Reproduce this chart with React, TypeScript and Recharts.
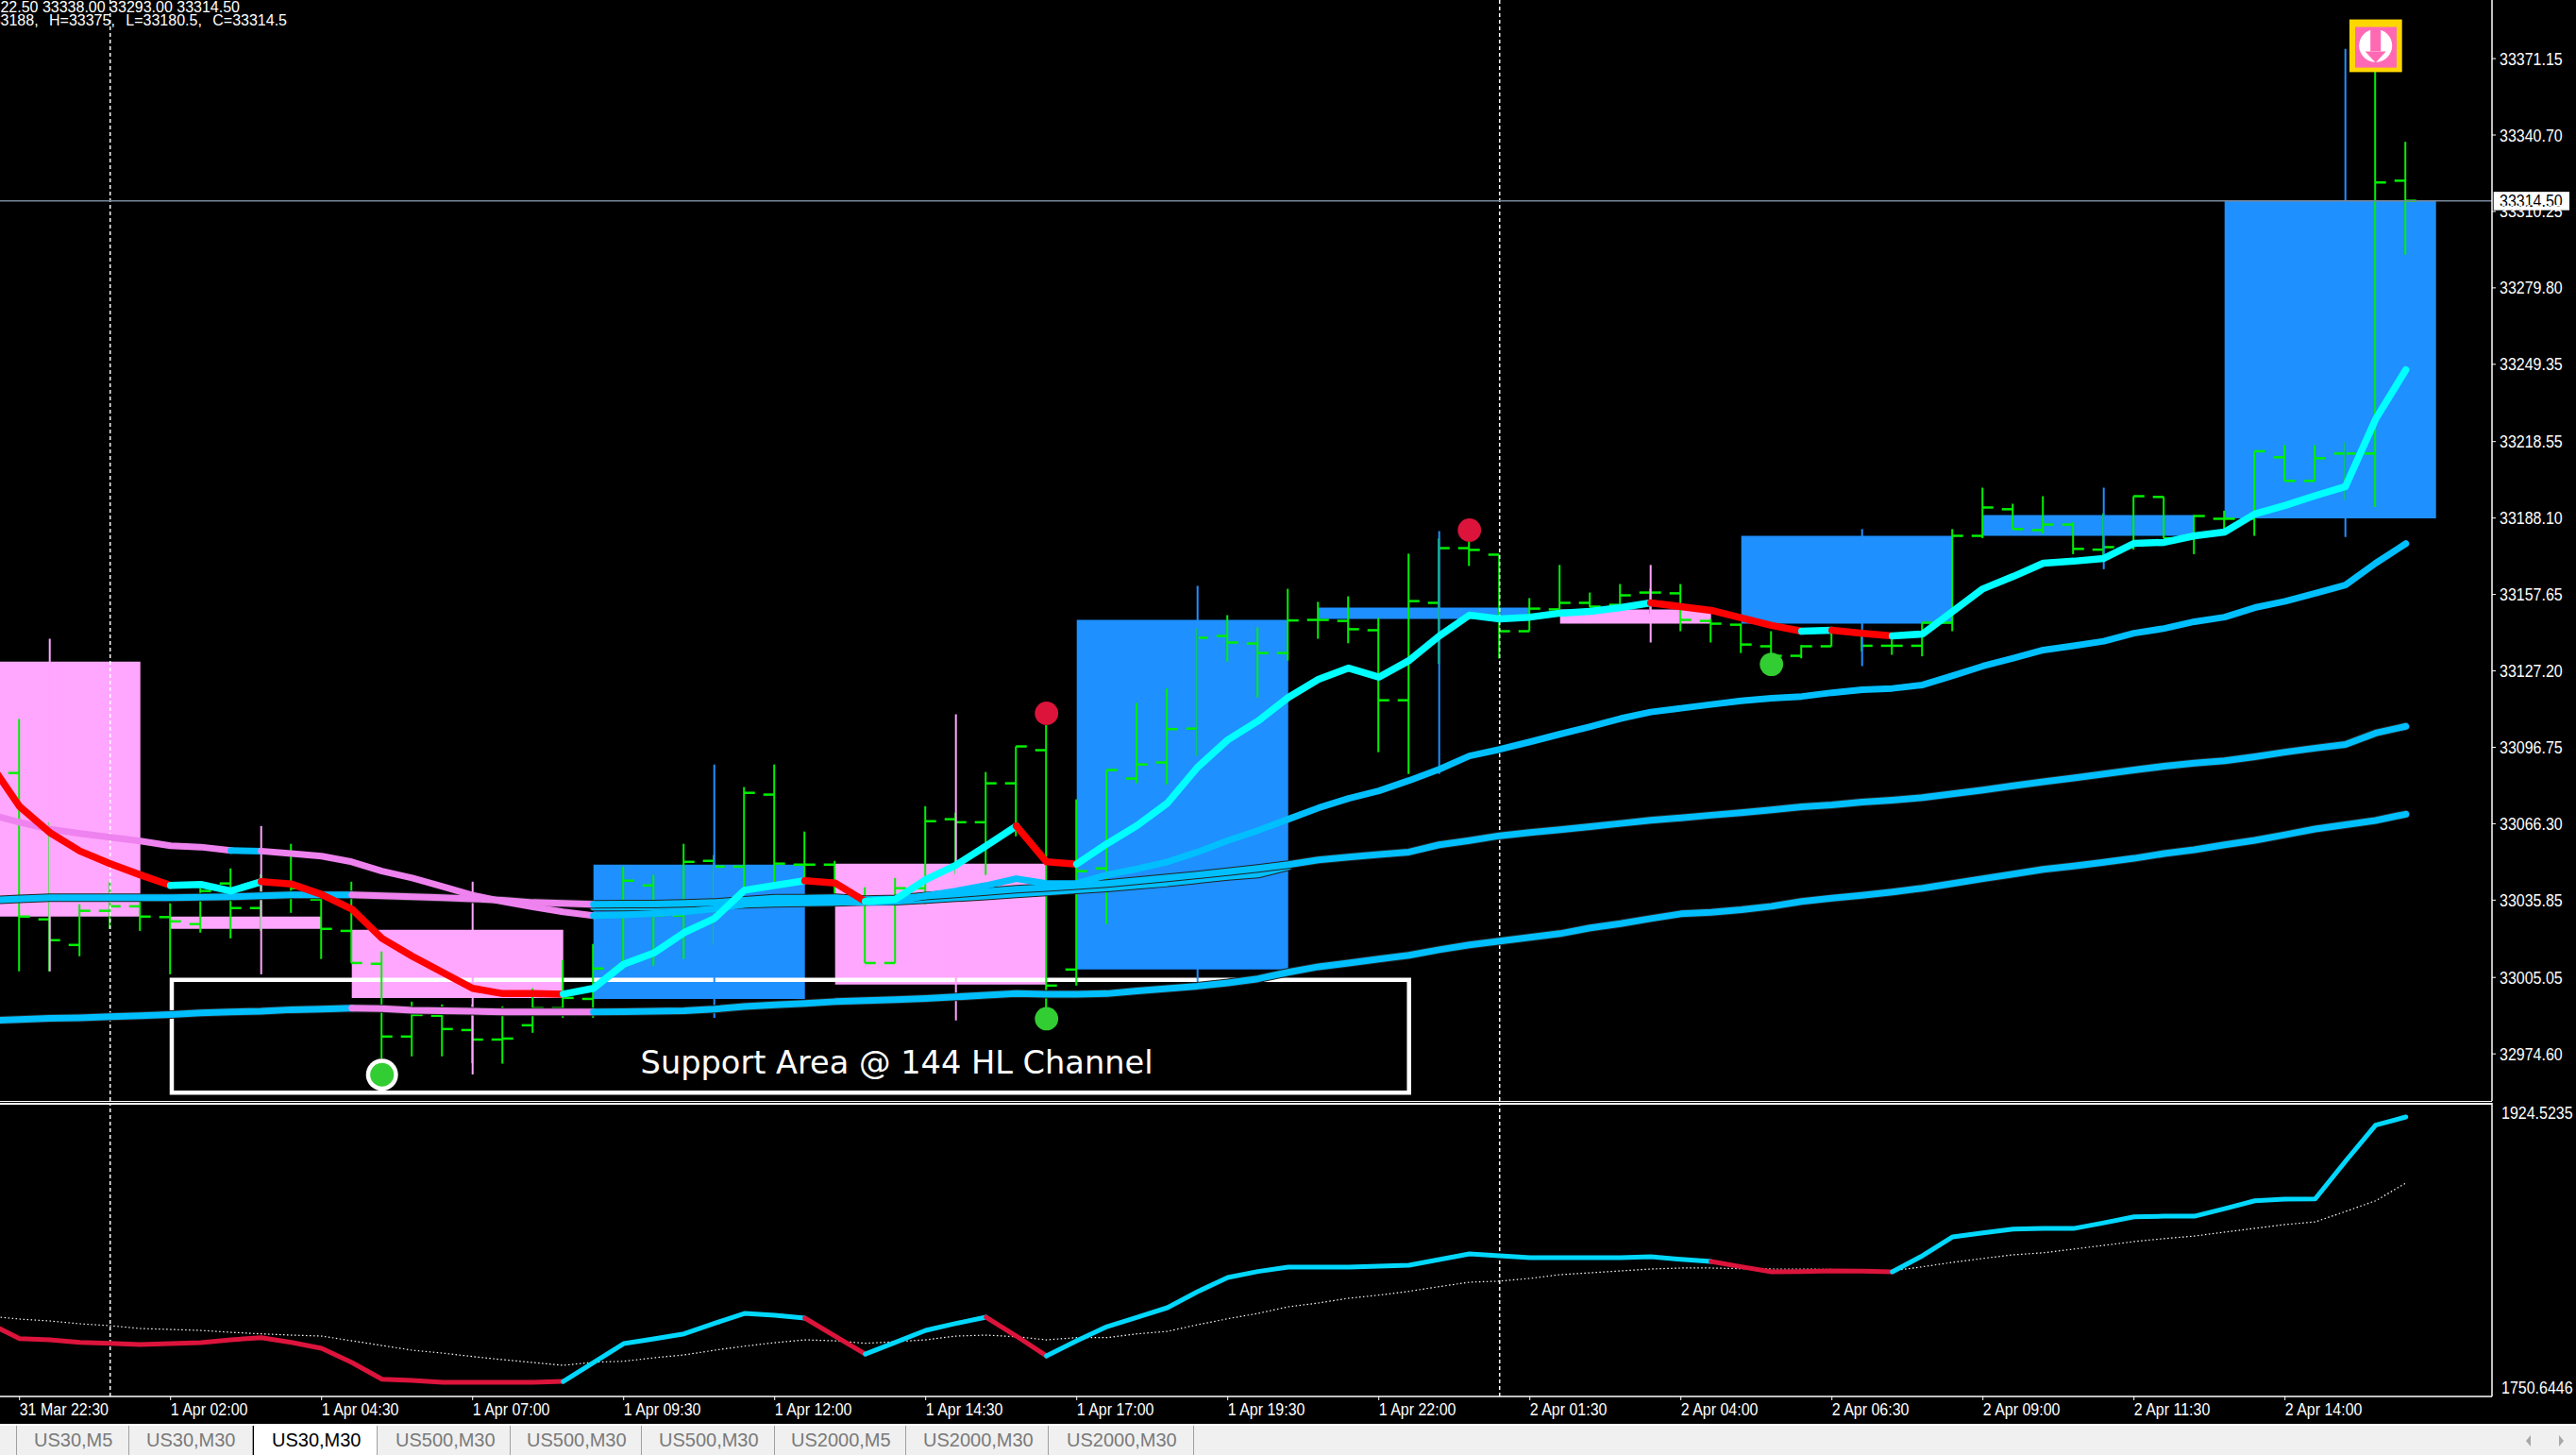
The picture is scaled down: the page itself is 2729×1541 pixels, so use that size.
import React from 'react';
import { ComposedChart, Line, Bar, Scatter, XAxis, YAxis, ReferenceArea, ReferenceLine, ReferenceDot } from 'recharts';

// ---- bar indices (30 minute bars); first one is just off the left edge
const barIds = Array.from({ length: 81 }, (_, i) => i - 1);

const highs = [33093.3,33108,33066.9,33034.2,33043.2,33036.4,33034.6,33040.6,33048.5,33046.2,33058.3,33039.5,33043.2,33015.4,32995.4,32994.3,32994.3,32993.5,33000.7,33012,33018.4,33049.2,33045.9,33058.3,33053.8,33080.9,33089.9,33063.2,33051.5,33041,33044.7,33073.3,33070.7,33086.9,33097.1,33105.7,33076,33087.7,33114.4,33120.2,33144.1,33149.4,33144.5,33159.9,33154.7,33156.9,33148.3,33173.9,33180,33178.8,33173.5,33156.2,33169.4,33158.4,33161.8,33160,33161.8,33147.9,33146,33143,33137.5,33143,33143.5,33140,33146.4,33183.7,33200.2,33193.8,33196.8,33186.4,33190,33196.8,33196.5,33189.3,33191,33214.7,33217.2,33217.2,33218.3,33375,33338];
const lows = [33078.2,33007.5,33007.5,33013.5,33024.4,33023.6,33006.3,33022.9,33020.6,33023.6,33030.8,33012.4,33010.8,32972.8,32973.6,32973.6,32970.9,32970.7,32983,32989,32989,33008.2,33009.7,33012.4,33018,33040.6,33040.6,33044,33035,33010.8,33010.8,33034.2,33046.2,33045.9,33061.3,32992.8,33001.8,33026.3,33082.4,33082,33093.3,33130.9,33116.6,33131.3,33140,33138.2,33094.8,33086.1,33130,33169,33132.1,33143,33151.7,33152.4,33153.5,33150,33143,33138.5,33134.3,33132.8,33132.2,33137,33135,33133.6,33133,33143,33180.1,33183.7,33181.8,33173.7,33172,33175.5,33180,33173.7,33182.9,33181,33202.9,33202.9,33195.3,33192.5,33293];
const opens = [33089.5,33086.5,33028.2,33018,33031.6,33033.4,33029.1,33026.3,33042.5,33032.7,33042.3,33036.1,33023.6,33010.5,32981.5,32989.8,32984.1,32980.3,32986,32992.8,32996.5,33008.6,33041.7,33029.7,33051.5,33049.2,33077.9,33050,33050,33036,33010.8,33040.6,33068.1,33066.9,33082.4,33095.6,33008.2,33048.5,33084.3,33090.7,33104.2,33141.1,33138.1,33134.3,33147.5,33147.1,33143.4,33115.5,33154.3,33176.1,33173.5,33143,33151.7,33154.3,33153.5,33158.4,33158.1,33147.1,33145.6,33137,33133.2,33137,33143,33137.2,33137.2,33146.4,33181,33191.6,33183.3,33185.5,33175.5,33176.5,33196.5,33180,33187.8,33187.8,33212.3,33202.9,33213.8,33213.8,33322.5];
const closes = [33086.5,33029.3,33019.9,33031.6,33033.4,33029.3,33027.4,33039.5,33032.7,33038.3,33040.6,33024.4,33010.8,32981.5,32990.1,32984.5,32980.3,32980.7,32992.8,32996.9,33008.6,33043.6,33029.7,33051.1,33049.2,33078.6,33050.4,33050,33036.8,33010.8,33040.6,33067.3,33066.9,33082.4,33097.1,33001.8,33047.4,33087.7,33089.9,33104,33140.4,33138.5,33134.3,33147.3,33147.5,33143.8,33115.5,33155,33176.1,33175.4,33143,33152,33154.3,33152.8,33157.3,33158.4,33147.5,33146,33137.7,33133.2,33137,33143,33137.2,33137.2,33146.4,33181,33192.3,33183.7,33185.5,33175.8,33176.5,33196.8,33180,33188.9,33187.8,33214.7,33202.9,33211.9,33213.8,33321.8,33314.5];

// ---- moving averages on the price panel
const fastMa = [33090.7,33073.2,33062.8,33055.4,33050.4,33045.9,33041.7,33042.1,33039.5,33043.2,33042.3,33038.1,33032.3,33020.6,33013.5,33007.1,33000.7,32998.6,32998.6,32998.4,33000.7,33010.3,33014.8,33022.9,33028.5,33039.8,33041.7,33043.6,33042.7,33035.3,33036.2,33044,33049.8,33057.5,33065.4,33051.1,33050.2,33058.3,33065.6,33074.5,33088.8,33099.7,33107.2,33116.6,33123.8,33128.3,33124.7,33131.3,33141.1,33149.4,33147.9,33148.6,33150.2,33150.9,33152.4,33154.3,33152.8,33151.3,33148.3,33145.3,33143,33143.4,33142.2,33141.1,33141.9,33150.9,33159.9,33164.8,33170.1,33170.9,33172,33178,33178.4,33181,33182.5,33189.7,33193.1,33197,33200.6,33227.5,33247.1];
const midMa = [33070,33066.9,33064.1,33062.4,33060.9,33059.4,33057.5,33057,33055.6,33055.4,33054.4,33053.4,33051.1,33047.4,33044.7,33041.3,33037.8,33035.3,33033.1,33031.2,33029.7,33030,33030.5,33031.2,33032.4,33034.2,33034.9,33036.2,33035.3,33034.9,33035.3,33037.6,33039.5,33041.7,33044.4,33042.5,33042.5,33045.9,33048.3,33051.1,33055,33059.6,33063.6,33068.1,33072.6,33076.4,33079.4,33083.5,33088,33093.3,33095.9,33098.9,33102,33105,33108.2,33110.8,33112.3,33113.8,33115.3,33116.3,33117,33118.5,33119.7,33120.2,33121.6,33125.3,33129.1,33132.2,33135.5,33137.2,33139,33142.2,33144.1,33146.8,33148.6,33152.4,33154.9,33158.1,33161.4,33170.1,33177.9];
const slowMa = [33035.8,33036.4,33036.8,33036.8,33036.8,33036.8,33036.8,33037,33037.2,33037.6,33038,33038,33038,33037.6,33037.2,33036.8,33036.4,33035.8,33034.9,33034.6,33034.2,33034.3,33034.3,33034.6,33034.9,33035.8,33036.6,33036.6,33036.8,33036.1,33036.4,33037.5,33038.3,33039.3,33040.2,33040.9,33041.6,33042.5,33043.6,33044.7,33045.9,33047.2,33048.5,33050,33051.9,33053,33054,33055,33057.9,33059.6,33061.5,33062.8,33063.9,33065.1,33066.4,33067.7,33068.6,33069.7,33070.7,33071.8,33073,33073.8,33074.9,33075.7,33076.7,33078.2,33079.7,33081.4,33083,33084.5,33086.1,33087.7,33089.2,33090.4,33091.4,33093,33094.8,33096.4,33097.9,33102.4,33105.1];
const slowMaAlt = [33033.1,33033.1,33033.2,33033.4,33033.6,33034.2,33034.6,33034.8,33034.9,33035.3,33035.4,33036.1,33036.8,33037.5,33038.3,33039.1,33039.9,33040.7,33041.7,33042.7,33044,33045.3,33046.2,33049.2];
const slowMaAltFirstBar = 19;
const channelMa = [32987.9,32988.3,32988.8,32989,32989.4,32989.8,32990.3,32990.9,32991.3,32991.6,32992.2,32992.4,32992.8,32992.6,32992,32991.8,32991.6,32991.3,32991.3,32991.3,32991.3,32991.4,32991.6,32991.8,32992.4,32993.5,32994.1,32994.7,32995.4,32995.8,32996.2,32996.7,32997.3,32998,32998.6,32998.4,32998.4,32998.6,32999.7,33000.6,33001.6,33002.9,33004.5,33007.1,33009.3,33010.8,33012.4,33013.9,33016.1,33018,33019.5,33021,33022.5,33024.8,33026.5,33028.5,33030.4,33031,33032,33033.4,33035.3,33036.6,33037.8,33039.1,33040.6,33042.5,33044.4,33046.2,33048.1,33049.4,33050.9,33052.5,33054.4,33055.9,33057.9,33059.7,33061.9,33064.2,33065.9,33067.6,33070.1];

// first bar, last bar, trend
const fastRuns = [[-1,5,'down'],[5,8,'up'],[8,18,'down'],[18,26,'up'],[26,28,'down'],[28,33,'up'],[33,35,'down'],[35,54,'up'],[54,59,'down'],[59,60,'up'],[60,62,'down'],[62,79,'up']];
const midRuns = [[-1,7,'down'],[7,8,'up'],[8,19,'down'],[19,79,'up']];
const slowRuns = [[-1,11,'up'],[11,19,'down'],[19,79,'up']];
const oscRuns = [[-1,18,'down'],[18,26,'up'],[26,28,'down'],[28,32,'up'],[32,34,'down'],[34,56,'up'],[56,62,'down'],[62,79,'up']];

// ---- 4 hour candles behind the bars
const h4First = [-3,5,11,19,27,35,43,51,57,65,73];
const h4Last = [4,10,18,26,34,42,50,56,64,72,80];
const h4Mid = [1,8,15,23,31,39,47,54,61,69,77];
const h4Open = [33130.9,33029.3,33024,32996.5,33050.4,33008.2,33147.9,33151.7,33146,33181,33188];
const h4Close = [33029.3,33024.4,32996.9,33050,33002.2,33147.5,33152.4,33146,33181,33189.3,33314.5];
const h4High = [33140,33065.4,33043.2,33089.9,33109.9,33161.1,33182.9,33169.4,33183.7,33200.2,33375];
const h4Low = [33007.5,33006.3,32966.4,32989,32987.9,33001.8,33086.1,33138.5,33129.1,33167.7,33180.5];

// ---- oscillator panel
const oscMain = [1791,1781.4,1780.6,1779,1778.4,1777.6,1778.2,1778.8,1780.6,1782,1779,1775.2,1766.2,1755.6,1754.8,1753.6,1753.6,1753.6,1753.6,1754.2,1766.2,1778.2,1781.2,1784.4,1791,1797.4,1796.2,1794.4,1783,1771.6,1779,1786.6,1791,1795,1783,1770.4,1780,1789,1795,1801,1811.2,1820.2,1824,1826.8,1826.8,1826.8,1827.4,1828,1831.6,1835.2,1834,1832.8,1832.8,1832.8,1832.8,1833.4,1831.7,1830.4,1827,1823.8,1824,1824.4,1824.2,1823.8,1834,1846,1848.5,1850.9,1851.3,1851.3,1854.9,1858.7,1859.1,1859.1,1863.9,1868.9,1869.9,1870.1,1893.9,1916.9,1922.1];
const oscSignal = [1795.6,1793.8,1792.6,1790.8,1789.6,1787.8,1787.2,1786.6,1785.4,1784.4,1783.6,1783,1780,1777,1774,1772.2,1770,1768,1766.2,1764.4,1766.4,1767,1769.2,1771,1774,1776.6,1778.8,1780.6,1780,1778.4,1779.4,1780.6,1783,1783.6,1782.6,1780.6,1782,1782,1784.4,1786,1790.2,1794,1797.4,1801.6,1804,1807,1809,1811.4,1814.4,1817.2,1817.9,1819.6,1822,1823.2,1824.4,1825.6,1826.2,1826.2,1825.8,1825.6,1825.6,1825.3,1825,1824.4,1827,1829.8,1832.3,1834.6,1835.9,1838.2,1840.6,1843,1844.9,1846.5,1849,1851.4,1853.8,1855.5,1862.1,1868.9,1880.1];

// ---- signals
const greenSignals = [{ bar: 34, price: 32988.6 }, { bar: 58, price: 33129.8 }];
const ringSignals = [{ bar: 12, price: 32966.3 }];
const redSignals = [{ bar: 34, price: 33110.3 }, { bar: 48, price: 33183.3 }];
const arrowSignals = [{ bar: 78, price: 33376.3 }];

// ---- axis and text
const priceTicks = [33371.15,33340.7,33310.25,33279.8,33249.35,33218.55,33188.1,33157.65,33127.2,33096.75,33066.3,33035.85,33005.05,32974.6];
const oscTicks = [1924.5235, 1750.6446];
const timeTickBars = [0,5,10,15,20,25,30,35,40,45,50,55,60,65,70,75];
const timeLabels = ['31 Mar 22:30','1 Apr 02:00','1 Apr 04:30','1 Apr 07:00','1 Apr 09:30','1 Apr 12:00','1 Apr 14:30','1 Apr 17:00','1 Apr 19:30','1 Apr 22:00','2 Apr 01:30','2 Apr 04:00','2 Apr 06:30','2 Apr 09:00','2 Apr 11:30','2 Apr 14:00'];
const tabLabels = ['US30,M5','US30,M30','US30,M30','US500,M30','US500,M30','US500,M30','US2000,M5','US2000,M30','US2000,M30'];
const activeTab = 2;
const lastPrice = 33314.5;
const crosshairBars = [3, 49];
const headerLine1 = '33322.50 33338.00 33293.00 33314.50';
const headerLine2 = 'O=33188, H=33375, L=33180.5, C=33314.5';
const supportText = 'Support Area @ 144 HL Channel';

// ---- layout and style
const W = 2729;
const AXIS_W = 89;
const FONT = '"Liberation Sans", Arial, sans-serif';
const X_DOMAIN = [-0.647, 81.853];
const PRICE_DOMAIN = [32955.85, 33394.5];
const OSC_DOMAIN = [1744.65, 1931.1];
const GREEN = '#00F000';
const H4_UP = '#1E90FF';
const H4_DOWN = '#FFA6FF';
const fastColor = { up: '#00FFFF', down: '#FF0000' };
const maColor = { up: '#00BFFF', down: '#EE82EE' };
const oscColor = { up: '#00D8FF', down: '#DC143C' };
const CONDENSE = 0.889;

const tabEdges = [17, 137, 268, 400, 541, 680, 821, 960, 1111, 1265];
const tabTextX = [35, 155, 287, 419, 558, 698, 838, 978, 1130];

const priceRows: any[] = barIds.map((bar, i) => ({
  bar,
  range: [lows[i], highs[i]],
  high: highs[i],
  low: lows[i],
  open: opens[i],
  close: closes[i],
  slowAlt: i - 1 - slowMaAltFirstBar >= 0 && i - 1 - slowMaAltFirstBar < slowMaAlt.length ? slowMaAlt[i - 1 - slowMaAltFirstBar] : null,
  slowEdge: slowMa[i],
  channelEdge: channelMa[i],
}));
const oscRows: any[] = barIds.map((bar, i) => ({ bar, signal: oscSignal[i] }));

function addRuns(rows: any[], name: string, values: number[], runs: any[], palette: any) {
  return runs.map((run, k) => {
    const key = `${name}${k}`;
    rows.forEach((row, i) => {
      row[key] = row.bar >= run[0] && row.bar <= run[1] ? values[i] : null;
    });
    return { key, color: palette[run[2]] };
  });
}
const fastLines = addRuns(priceRows, 'fast', fastMa, fastRuns, fastColor);
const midLines = addRuns(priceRows, 'mid', midMa, midRuns, maColor);
const slowLines = addRuns(priceRows, 'slow', slowMa, slowRuns, maColor);
const channelLines = addRuns(priceRows, 'channel', channelMa, slowRuns, maColor);
const oscLines = addRuns(oscRows, 'osc', oscMain, oscRuns, oscColor);

const OhlcShape = (props: any) => {
  const { x, y, width, height, payload } = props;
  const cx = x + width / 2;
  const span = payload.high - payload.low;
  const at = (p: number) => y + ((payload.high - p) / span) * height;
  return (
    <g stroke={GREEN} strokeWidth={2}>
      <line x1={cx} x2={cx} y1={y} y2={y + height} />
      <line x1={cx - width / 2} x2={cx} y1={at(payload.open)} y2={at(payload.open)} strokeWidth={2.5} />
      <line x1={cx} x2={cx + width / 2} y1={at(payload.close)} y2={at(payload.close)} strokeWidth={2.5} />
    </g>
  );
};

const DotShape = (fill: string) => (props: any) => <ellipse cx={props.cx} cy={props.cy} rx={12.4} ry={12.4} fill={fill} />;
const RingShape = (props: any) => (
  <g>
    <ellipse cx={props.cx} cy={props.cy} rx={17} ry={17} fill="#fff" />
    <ellipse cx={props.cx} cy={props.cy} rx={12.5} ry={12.5} fill="#32CD32" />
  </g>
);
const ArrowShape = (props: any) => {
  const { cx, cy } = props;
  return (
    <g>
      <rect x={cx - 27.7} y={cy - 27.8} width={55.7} height={55.8} fill="#FFD700" />
      <rect x={cx - 21.7} y={cy - 19.8} width={44} height={43} fill="#FF69B4" />
      <circle cx={cx} cy={cy} r={17.5} fill="#fff" />
      <rect x={cx - 5.5} y={cy - 19} width={11} height={25} fill="#FF69B4" />
      <path d={`M${cx - 11} ${cy + 6} H${cx + 11} L${cx} ${cy + 18} Z`} fill="#FF69B4" />
    </g>
  );
};

const CondensedText = ({ x, y, fill, children }: any) => (
  <text transform={`translate(${x},${y}) scale(${CONDENSE},1)`} fill={fill} fontFamily={FONT} fontSize={18}>{children}</text>
);

const TextLabel = (props: any) => (
  <text x={props.cx} y={props.cy} fill="#fff" fontFamily='"DejaVu Sans", sans-serif' fontSize={33.6}>{supportText}</text>
);

const LastPriceLabel = (props: any) => {
  const { viewBox } = props;
  const right = viewBox.x + viewBox.width;
  return (
    <g>
      <rect x={right + 1.7} y={viewBox.y - 9.5} width={80.3} height={19.5} fill="#fff" />
      <CondensedText x={right + 8} y={viewBox.y + 6.5} fill="#000">{lastPrice.toFixed(2)}</CondensedText>
    </g>
  );
};

const PriceTick = (props: any) => (
  <CondensedText x={props.x} y={props.y + 6.5} fill="#fff">{props.payload.value.toFixed(2)}</CondensedText>
);
const OscTick = (props: any) => (
  <CondensedText x={props.x} y={props.y + 6.5} fill="#fff">{props.payload.value.toFixed(4)}</CondensedText>
);
const TimeTick = (props: any) => {
  const { x, y, payload } = props;
  return <CondensedText x={x} y={y + 14} fill="#fff">{timeLabels[timeTickBars.indexOf(payload.value)]}</CondensedText>;
};

const lineProps = { type: 'linear' as const, dot: false, isAnimationActive: false, connectNulls: false, strokeLinecap: 'round' as const, strokeLinejoin: 'round' as const, legendType: 'none' as const, activeDot: false };

const headerStyle: any = { position: 'absolute', color: '#fff', fontSize: 16, lineHeight: '14px', whiteSpace: 'nowrap', textAlign: 'right' };

export default function App() {
  return (
    <div style={{ position: 'absolute', left: 0, top: 0, width: W, height: 1541, background: '#000', overflow: 'hidden', fontFamily: FONT }}>
      <div style={{ position: 'absolute', left: 0, top: 0 }}>
        <ComposedChart width={W} height={1166} data={priceRows} margin={{ top: 0, right: 0, left: 0, bottom: 0 }}>
          <XAxis dataKey="bar" type="number" domain={X_DOMAIN} allowDataOverflow hide />
          <YAxis yAxisId="p" orientation="right" width={AXIS_W} domain={PRICE_DOMAIN} allowDataOverflow ticks={priceTicks} interval={0}
            tick={PriceTick} axisLine={{ stroke: '#fff', strokeWidth: 1.5 }} tickLine={{ stroke: '#fff' }} tickSize={4} tickMargin={4} />
          {h4First.map((first, i) => (
            <ReferenceArea key={`box${i}`} yAxisId="p" x1={first} x2={h4Last[i]} y1={h4Open[i]} y2={h4Close[i]} ifOverflow="visible"
              fill={h4Close[i] >= h4Open[i] ? H4_UP : H4_DOWN} fillOpacity={1} stroke="none" />
          ))}
          <Bar yAxisId="p" dataKey="range" barSize={23} shape={OhlcShape} isAnimationActive={false} legendType="none" />
          {h4Mid.map((bar, i) => (
            <ReferenceLine key={`wick${i}`} yAxisId="p" segment={[{ x: bar, y: h4Low[i] }, { x: bar, y: h4High[i] }]} ifOverflow="visible"
              stroke={h4Close[i] >= h4Open[i] ? H4_UP : H4_DOWN} strokeWidth={2} />
          ))}
          {crosshairBars.map((bar) => (
            <ReferenceLine key={`cross${bar}`} yAxisId="p" x={bar} stroke="#fff" strokeWidth={1.5} strokeDasharray="4 3" />
          ))}
          <Line yAxisId="p" dataKey="channelEdge" stroke="#222" strokeWidth={9} {...lineProps} />
          {channelLines.map((l) => <Line key={l.key} yAxisId="p" dataKey={l.key} stroke={l.color} strokeWidth={7} {...lineProps} />)}
          <Line yAxisId="p" dataKey="slowAlt" stroke="#222" strokeWidth={9} {...lineProps} />
          <Line yAxisId="p" dataKey="slowAlt" stroke={maColor.up} strokeWidth={7} {...lineProps} />
          <Line yAxisId="p" dataKey="slowEdge" stroke="#222" strokeWidth={9} {...lineProps} />
          {slowLines.map((l) => <Line key={l.key} yAxisId="p" dataKey={l.key} stroke={l.color} strokeWidth={7} {...lineProps} />)}
          {midLines.map((l) => <Line key={l.key} yAxisId="p" dataKey={l.key} stroke={l.color} strokeWidth={7} {...lineProps} />)}
          {fastLines.map((l) => <Line key={l.key} yAxisId="p" dataKey={l.key} stroke={l.color} strokeWidth={7.5} {...lineProps} />)}
          <ReferenceLine yAxisId="p" y={lastPrice} stroke="#778899" strokeWidth={1.5} label={<LastPriceLabel />} />
          <ReferenceArea yAxisId="p" x1={5.04} x2={46} y1={33004.1} y2={32959.1} ifOverflow="visible" fill="none" stroke="#fff" strokeWidth={4.5} />
          <ReferenceDot yAxisId="p" x={20.56} y={32966.8} r={0} ifOverflow="visible" shape={TextLabel} />
          <Scatter yAxisId="p" data={greenSignals} dataKey="price" shape={DotShape('#32CD32')} isAnimationActive={false} legendType="none" />
          <Scatter yAxisId="p" data={redSignals} dataKey="price" shape={DotShape('#DC143C')} isAnimationActive={false} legendType="none" />
          <Scatter yAxisId="p" data={ringSignals} dataKey="price" shape={RingShape} isAnimationActive={false} legendType="none" />
          <Scatter yAxisId="p" data={arrowSignals} dataKey="price" shape={ArrowShape} isAnimationActive={false} legendType="none" />
        </ComposedChart>
      </div>

      <div style={{ position: 'absolute', left: 0, top: 1168 }}>
        <ComposedChart width={W} height={340} data={oscRows} margin={{ top: 0, right: 0, left: 0, bottom: 0 }}>
          <XAxis dataKey="bar" type="number" domain={X_DOMAIN} allowDataOverflow ticks={timeTickBars} interval={0} height={29}
            tick={TimeTick} tickLine={{ stroke: '#fff' }} tickSize={4} axisLine={{ stroke: '#fff', strokeWidth: 1.5 }} />
          <YAxis yAxisId="o" orientation="right" width={AXIS_W} domain={OSC_DOMAIN} allowDataOverflow ticks={oscTicks} interval={0}
            tick={OscTick} axisLine={{ stroke: '#fff', strokeWidth: 1.5 }} tickLine={false} tickMargin={4} />
          {crosshairBars.map((bar) => (
            <ReferenceLine key={`cross2${bar}`} yAxisId="o" x={bar} stroke="#fff" strokeWidth={1.5} strokeDasharray="4 3" />
          ))}
          <Line yAxisId="o" dataKey="signal" stroke="#fff" strokeWidth={1.2} strokeDasharray="1.5 2.5" {...lineProps} strokeLinecap="butt" />
          {oscLines.map((l) => <Line key={l.key} yAxisId="o" dataKey={l.key} stroke={l.color} strokeWidth={5} {...lineProps} />)}
        </ComposedChart>
      </div>

      {/* header text */}
      <div style={{ ...headerStyle, right: W - 254, top: 1 }}>{headerLine1}</div>
      <div style={{ ...headerStyle, right: W - 304, top: 15, wordSpacing: 7 }}>{headerLine2}</div>

      {/* panel separators */}
      <div style={{ position: 'absolute', left: 0, top: 1165.5, width: 2640, height: 1.5, background: '#fff' }} />
      <div style={{ position: 'absolute', left: 0, top: 1168, width: 2640, height: 1.5, background: '#fff' }} />

      {/* tab strip */}
      <div style={{ position: 'absolute', left: 0, top: 1508, width: W, height: 2, background: '#fff' }} />
      <div style={{ position: 'absolute', left: 0, top: 1510, width: W, height: 31, background: '#F0F0F0' }}>
        {tabLabels.map((label, i) => (
          <div key={i} style={{ position: 'absolute', left: tabEdges[i], top: 0, width: tabEdges[i + 1] - tabEdges[i], height: 31, boxSizing: 'border-box',
            borderRight: '1px solid #A0A0A0', background: i === activeTab ? '#fff' : 'transparent', borderLeft: i === activeTab ? '1px solid #000' : i === 0 ? '1px solid #A0A0A0' : 'none' }}>
            <span style={{ position: 'absolute', left: tabTextX[i] - tabEdges[i], top: 3, fontSize: 20, lineHeight: '24px', color: i === activeTab ? '#000' : '#7a7a7a', whiteSpace: 'nowrap' }}>{label}</span>
          </div>
        ))}
        <div style={{ position: 'absolute', left: 2676, top: 10, width: 0, height: 0, borderTop: '6px solid transparent', borderBottom: '6px solid transparent', borderRight: '5px solid #A8A8A8' }} />
        <div style={{ position: 'absolute', left: 2711, top: 10, width: 0, height: 0, borderTop: '6px solid transparent', borderBottom: '6px solid transparent', borderLeft: '5px solid #A8A8A8' }} />
      </div>
    </div>
  );
}
